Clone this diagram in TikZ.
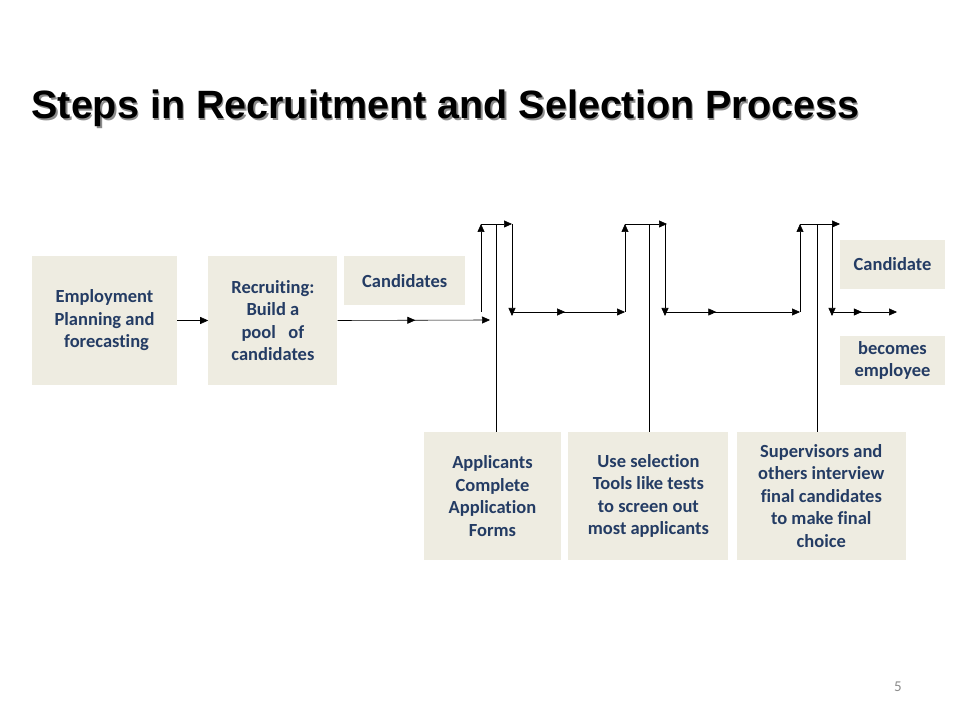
\documentclass[tikz,border=0pt]{standalone}
\usepackage{fontspec}
\setmainfont{Carlito}[Ligatures=NoCommon]
\newfontfamily\headfont{Liberation Sans}
\usetikzlibrary{arrows.meta, positioning, decorations.markings}

\definecolor{boxfill}{RGB}{238,236,225}
\definecolor{boxtext}{RGB}{36,60,100}

\begin{document}
\begin{tikzpicture}[
    x=1pt, y=1pt,
    box/.style={fill=boxfill, align=center, inner sep=2pt, text=boxtext, font=\fontsize{18.5}{22.5}\selectfont\bfseries},
    tip/.style={-{Triangle[length=8pt, width=7pt]}},
    flow/.style={tip, semithick},
    line/.style={semithick},
    midtip/.style={postaction={decorate}, decoration={markings, mark=at position #1 with {\arrow{Triangle[length=8pt, width=7pt]}}}},
    heading/.style={anchor=base west, font=\headfont\fontsize{39.5}{39.5}\selectfont\bfseries},
    node distance=31pt
]
\useasboundingbox[fill=white] (0,0) rectangle (960,720);

% title with its shadow
\node[heading, text=black!45] (shade) at (29.5,599.5) {Steps in Recruitment and Selection Process};
\node[heading] (title) at (28,601) {Steps in Recruitment and Selection Process};

% top row
\node[box, minimum width=145pt, minimum height=129pt] (plan) at (104.5,399.5) {Employment\\Planning and\\\ forecasting};
\node[box, minimum width=129pt, minimum height=129pt, right=of plan] (recruit) {Recruiting:\\Build a\\pool~~ of\\candidates};
\node[box, minimum width=121pt, minimum height=49pt, anchor=north west] (cands) at (344,464) {Candidates};

% bottom row
\node[box, minimum width=137pt, minimum height=128pt] (forms) at (492.5,224) {Applicants\\Complete\\Application\\Forms};
\node[box, minimum width=160pt, minimum height=128pt, right=7pt of forms] (tools) {Use selection\\Tools like tests\\to screen out\\ most applicants};
\node[box, minimum width=169pt, minimum height=128pt, right=8pt of tools] (interview) {Supervisors and\\others interview\\final candidates\\to make final\\choice};

% result on the right
\node[box, minimum width=105pt, minimum height=49pt] (cand) at (892.5,455.5) {Candidate};
\node[box, minimum width=105pt, minimum height=49pt] (employee) at (892.5,359.5) {becomes\\employee};

\node[text=black!45, font=\fontsize{15}{15}\selectfont] (page) at (898,33) {5};

% junction points
\coordinate (in1) at (490,400);
\coordinate (up1) at (481,408);
\coordinate (top1) at (481,496);
\coordinate (end1) at (512,496);
\coordinate (down1) at (512,404);
\coordinate (out1) at (512,408);
\coordinate (up2) at (625,408);
\coordinate (top2) at (625,496);
\coordinate (end2) at (667,496);
\coordinate (down2) at (665,404);
\coordinate (out2) at (665,408);
\coordinate (up3) at (800,408);
\coordinate (top3) at (800,496);
\coordinate (end3) at (840,496);
\coordinate (down3) at (832,404);
\coordinate (out3) at (832,408);
\coordinate (last) at (897,408);

\draw[flow] (plan) -- (recruit);
\draw[flow, midtip=0.51] (recruit.east) -- (in1);

\draw[flow] (up1) -- (top1);
\draw[flow] (top1) -- (end1);
\draw[flow] (end1) -- (down1);
\draw[line] (forms.north) ++(3.5,0) -- ++(0,208);
\draw[flow, midtip=0.47] (out1) -- (up2);

\draw[flow] (up2) -- (top2);
\draw[flow] (top2) -- (end2);
\draw[flow] (end2 -| down2) -- (down2);
\draw[line] (tools.north) ++(1,0) -- ++(0,208);
\draw[flow, midtip=0.38] (out2) -- (up3);

\draw[flow] (up3) -- (top3);
\draw[flow] (top3) -- (end3);
\draw[flow] (end3 -| down3) -- (down3);
\draw[line] (interview.north) ++(-4.5,0) -- ++(0,208);
\draw[flow, midtip=0.46] (out3) -- (last);
\end{tikzpicture}
\end{document}
